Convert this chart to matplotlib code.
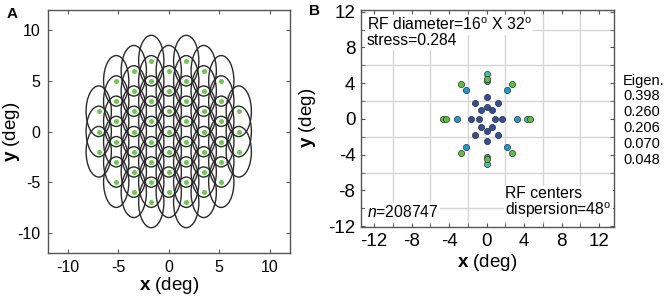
import matplotlib
matplotlib.use("Agg")
import matplotlib.pyplot as plt
from matplotlib.patches import Ellipse

plt.rcParams['font.family'] = ['Liberation Sans', 'DejaVu Sans']
plt.rcParams['mathtext.fontset'] = 'custom'
plt.rcParams['mathtext.rm'] = 'Liberation Sans'
plt.rcParams['mathtext.it'] = 'Liberation Sans:italic'
plt.rcParams['mathtext.bf'] = 'Liberation Sans:bold'
plt.rcParams['axes.unicode_minus'] = False

# ---------------- Panel A data: RF centers (hexagonal layout) ----------------
col_x = [-6.93, -5.2, -3.46, -1.73, 0.0, 1.73, 3.46, 5.2, 6.93]
col_y = [
    [2, 0, -2],
    [5, 3, 1, -1, -3, -5],
    [6, 4, 2, 0, -2, -4, -6],
    [7, 5, 3, 1, -1, -3, -5, -7],
    [6, 4, 2, 0, -2, -4, -6],
    [7, 5, 3, 1, -1, -3, -5, -7],
    [6, 4, 2, 0, -2, -4, -6],
    [5, 3, 1, -1, -3, -5],
    [2, 0, -2],
]
a_ticks = [-10, -5, 0, 5, 10]

# ---------------- Panel B data: MDS-recovered centers ----------------
dark_x = [0, 0, 0, 0, -1.65, -0.8, 0.85, 1.7, -1.2, 1.2, -1.2, 1.2, -0.6, 0.6, -0.6, 0.6]
dark_y = [2.5, 1.35, -1.35, -2.5, 0, 0, 0, 0, 1.8, 1.8, -1.8, -1.8, 1.0, 1.0, -0.95, -0.95]
light_x = [-3.15, 3.2, 0, 0, -2.2, 2.2, -2.2, 2.2]
light_y = [0, 0, 4.3, -4.3, 3.25, 3.25, -3.15, -3.15]
green_x = [-4.6, -4.3, 4.65, 0, 0, -2.75, 2.75, -2.75, 2.75]
green_y = [0, 0, 0, 4.5, -4.45, 3.95, 3.95, -3.87, -3.87]
teal_x = [0, 0, 4.3]
teal_y = [5.05, -5.0, 0]
b_ticks = [-12, -8, -4, 0, 4, 8, 12]
b_minor = [-12, -10, -8, -6, -4, -2, 0, 2, 4, 6, 8, 10, 12]
eigen_vals = ["0.398", "0.260", "0.206", "0.070", "0.048"]

W, H = 669, 299
fig = plt.figure(figsize=(W/100, H/100), dpi=100)

# ---------------- Panel A ----------------
axA = fig.add_axes([47.5/W, 1-253/H, 242.5/W, 243/H])
for cx, ys in zip(col_x, col_y):
    for cy in ys:
        axA.add_patch(Ellipse((cx, cy), 2.5, 5.0, fill=False, ec='#2a2a2a', lw=1.0))
ax_pts = [cx for cx, ys in zip(col_x, col_y) for _ in ys]
ay_pts = [cy for ys in col_y for cy in ys]
axA.scatter(ax_pts, ay_pts, s=13, c='#6cc84e', zorder=3, linewidths=0)
axA.set_xlim(-12, 12)
axA.set_ylim(-12, 12)
axA.set_xticks(a_ticks)
axA.set_yticks(a_ticks)
axA.tick_params(direction='in', top=True, right=True, length=3, labelsize=11.5,
                color='#555555', pad=5)
for s in axA.spines.values():
    s.set_color('#555555')
    s.set_linewidth(1.0)
axA.set_xlabel(r'$\mathbf{x}$ (deg)', fontsize=13.5, labelpad=0)
axA.set_ylabel(r'$\mathbf{y}$ (deg)', fontsize=13.5)
axA.yaxis.set_label_coords((22 - 47.5)/242.5, 0.5)
fig.text(7/W, 1-14/H, 'A', fontsize=11, fontweight='bold', va='center', ha='left')

# ---------------- Panel B ----------------
axB = fig.add_axes([361/W, 1-227/H, 253/W, 217.5/H])
axB.set_xlim(-13.4, 13.6)
axB.set_ylim(-12.1, 12.25)
axB.set_xticks(b_minor, minor=True)
axB.set_yticks(b_minor, minor=True)
axB.set_xticks(b_ticks)
axB.set_yticks(b_ticks)
axB.grid(True, which='minor', color='#d6d6d6', lw=1.0)
axB.set_axisbelow(True)
axB.tick_params(which='both', direction='in', top=True, right=True, length=3,
                color='#555555')
axB.tick_params(which='major', labelsize=13.5, pad=4)
for s in axB.spines.values():
    s.set_color('#555555')
    s.set_linewidth(1.0)
kw = dict(s=20, edgecolors='#333333', linewidths=0.5, zorder=3)
axB.scatter(light_x, light_y, c='#1c9ad6', **kw)
axB.scatter(teal_x, teal_y, c='#3cc49c', **kw)
axB.scatter(green_x, green_y, c='#5cbf3f', **kw)
axB.scatter(dark_x, dark_y, c='#2e4f9e', **kw)
axB.set_xlabel(r'$\mathbf{x}$ (deg)', fontsize=13.5, labelpad=2)
axB.set_ylabel(r'$\mathbf{y}$ (deg)', fontsize=13.5)
axB.yaxis.set_label_coords((318 - 361)/253, 0.5)

box = dict(boxstyle='square,pad=0.1', fc='white', ec='none')
fs = 11.3
axB.text(-12.8, 10.55, r'RF diameter=16$^{\mathrm{o}}$ X 32$^{\mathrm{o}}$',
         fontsize=fs, va='center', ha='left', bbox=box, zorder=4)
axB.text(-12.8, 8.75, 'stress=0.284', fontsize=fs, va='center', ha='left',
         bbox=box, zorder=4)
axB.text(-12.8, -10.45, r'$\mathit{n}$=208747', fontsize=fs, va='center',
         ha='left', bbox=box, zorder=4)
axB.text(2.0, -11.3, 'RF centers\ndispersion=48$^{\\mathrm{o}}$', fontsize=fs,
         va='bottom', ha='left', linespacing=0.95, bbox=box, zorder=4)

fig.text(623/W, 1-85/H, 'Eigen.', fontsize=10.5, va='baseline', ha='left')
for i, v in enumerate(eigen_vals):
    fig.text(623/W, 1-(99.5 + 16.1*i)/H, v, fontsize=10.5, va='baseline', ha='left')

fig.text(309/W, 1-11/H, 'B', fontsize=11, fontweight='bold', va='center', ha='left')

fig.savefig('out.png', dpi=100)
